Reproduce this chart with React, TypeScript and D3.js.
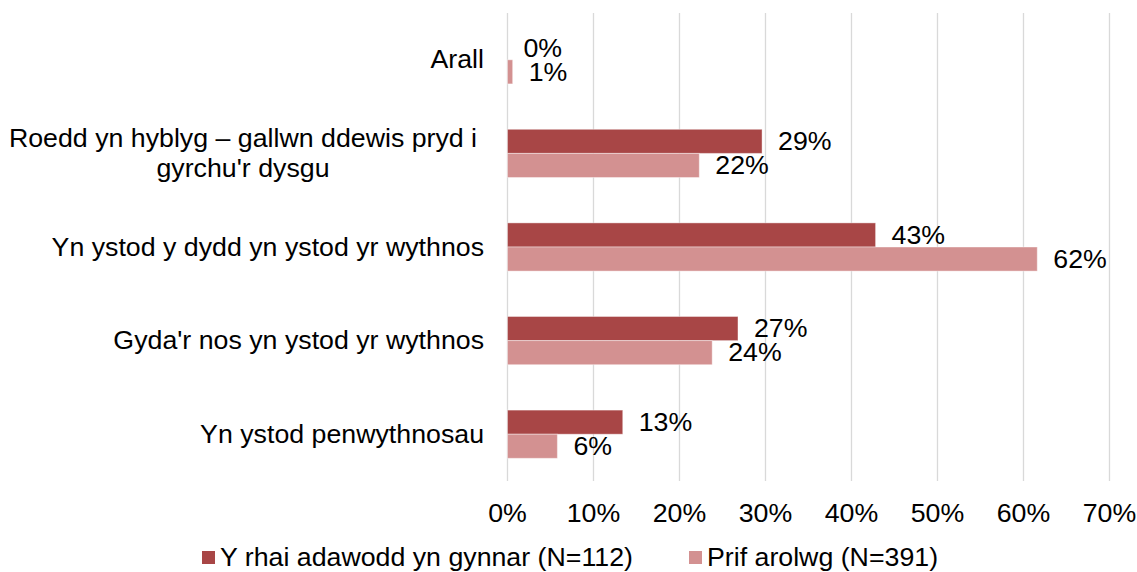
import React from 'react';
import * as d3 from 'd3';

const categories = [
  'Arall',
  "Roedd yn hyblyg – gallwn ddewis pryd i|gyrchu'r dysgu",
  'Yn ystod y dydd yn ystod yr wythnos',
  "Gyda'r nos yn ystod yr wythnos",
  'Yn ystod penwythnosau',
];
const seriesNames = ['Y rhai adawodd yn gynnar (N=112)', 'Prif arolwg (N=391)'];
const earlyLeavers = [0, 0.296, 0.428, 0.268, 0.134];
const mainSurvey = [0.006, 0.223, 0.616, 0.238, 0.058];
const valueLabels = [
  ['0%', '29%', '43%', '27%', '13%'],
  ['1%', '22%', '62%', '24%', '6%'],
];
const ticks = [0, 0.1, 0.2, 0.3, 0.4, 0.5, 0.6, 0.7];
const colors = ['#a84646', '#d39191'];

const W = 1137;
const H = 572;
const FONT = 'Liberation Sans, Arial, sans-serif';

// text slightly stretched sideways, like the reference rendering
function T(props: { x: number; y: number; anchor?: string; dy?: string; children: React.ReactNode }) {
  return (
    <text
      transform={`translate(${props.x},${props.y}) scale(1.07,1)`}
      dy={props.dy || '0'}
      textAnchor={props.anchor || 'start'}
      fontSize={25}
      fill="#000"
    >
      {props.children}
    </text>
  );
}

export default function App() {
  const x = d3.scaleLinear().domain([0, 0.7]).range([507.5, 1109.5]);
  const y = d3.scaleBand<string>().domain(categories).range([13, 481]).paddingInner(0.485).paddingOuter(0.2425);
  const inner = d3.scaleBand<number>().domain([0, 1]).range([0, y.bandwidth()]);
  const series = [earlyLeavers, mainSurvey];
  const fmt = d3.format('.0%');
  const legendX = [202, 689];

  return (
    <svg width={W} height={H} style={{ position: 'absolute', left: 0, top: 0, background: '#fff' }} fontFamily={FONT}>
      {ticks.map((t) => (
        <g key={t}>
          <line x1={x(t)} x2={x(t)} y1={13} y2={481} stroke="#d9d9d9" strokeWidth={1.3} />
          <T x={x(t)} y={522} anchor="middle">{fmt(t)}</T>
        </g>
      ))}
      {categories.map((c, i) => {
        const cy = (y(c) as number) + y.bandwidth() / 2;
        const lines = c.split('|');
        return (
          <g key={c}>
            {lines.length === 1 ? (
              <T x={484} y={cy} dy="0.34em" anchor="end">{lines[0]}</T>
            ) : (
              lines.map((l, k) => (
                <T key={k} x={243} y={cy + (k - (lines.length - 1) / 2) * 30} dy="0.34em" anchor="middle">{l}</T>
              ))
            )}
            {series.map((s, j) => {
              const by = (y(c) as number) + (inner(j) as number);
              return (
                <g key={j}>
                  <rect x={x(0)} y={by} width={x(s[i]) - x(0)} height={inner.bandwidth()} fill={colors[j]} stroke="#fff" strokeOpacity={0.4} strokeWidth={1} />
                  <T x={x(s[i]) + 16} y={by + inner.bandwidth() / 2} dy="0.35em">{valueLabels[j][i]}</T>
                </g>
              );
            })}
          </g>
        );
      })}
      {seriesNames.map((n, j) => (
        <g key={n}>
          <rect x={legendX[j]} y={551} width={13} height={13} fill={colors[j]} />
          <T x={legendX[j] + 18} y={566}>{n}</T>
        </g>
      ))}
    </svg>
  );
}
